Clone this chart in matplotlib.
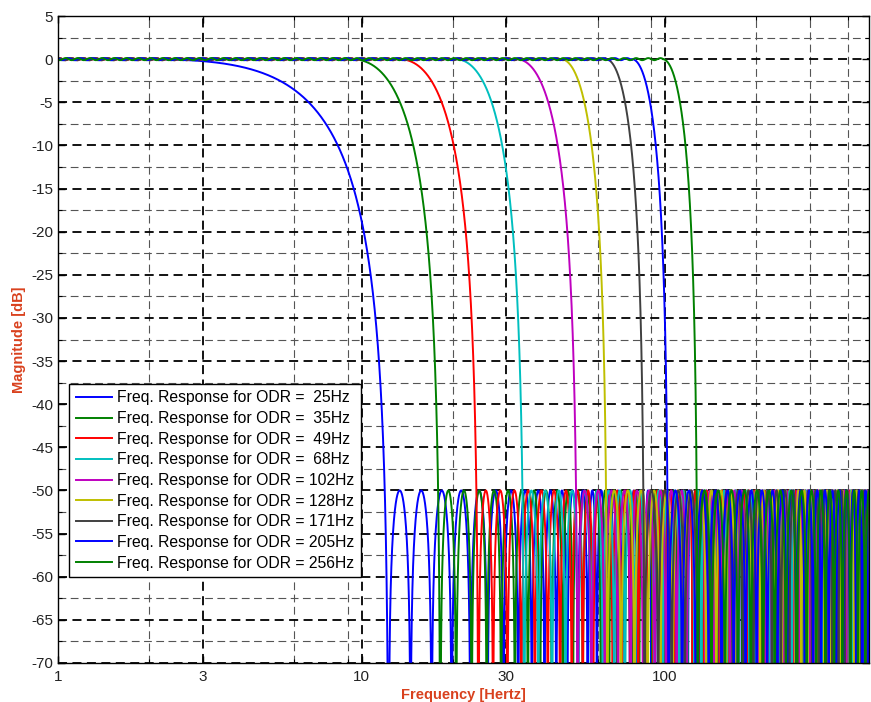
import numpy as np
import matplotlib
matplotlib.use("Agg")
import matplotlib.pyplot as plt
from matplotlib.ticker import FixedLocator, NullFormatter

plt.rcParams['font.family'] = ['Liberation Sans', 'DejaVu Sans']

# values
odr = [25, 35, 49, 68, 102, 128, 171, 205, 256]                      # Hz
pass_edge = [1.92, 9.28, 13.32, 20.39, 32.4, 45.4, 63.8, 77.8, 98.2]  # Hz, where roll-off starts
stop_edge = [12.3, 18.2, 24.3, 34.4, 51.6, 64.6, 85.6, 102.7, 128.2]  # Hz, first notch
lobe_step = [0.072, 0.052, 0.048, 0.046, 0.045, 0.045, 0.045, 0.045, 0.045]  # decades per lobe at the edge
colors = ['#0000ff', '#008000', '#ff0000', '#00bfbf', '#bf00bf',
          '#bfbf00', '#404040', '#0000ff', '#008000']
STOP_DB = -50.0
RIPPLE_DB = 0.12
LOBE_SHRINK = 3.0   # lobes get narrower away from the stop edge

x_major = [1, 3, 10, 30, 100]
x_minor = [2, 6, 9, 20, 60, 90, 200, 300, 400]
y_major = np.arange(-70, 6, 5)
y_minor = np.arange(-67.5, 5, 5)

LABEL_COLOR = '#d9411e'

###################################################

def response(f, fp, fs, step):
    # raised-cosine roll-off, then equiripple-looking stopband lobes
    x = np.clip((f - fp) / (fs - fp), 0, 1)
    h = 0.5 * (1 + np.cos(np.pi * x))
    u = np.log10(np.maximum(f, fs) / fs)
    phase = (u + LOBE_SHRINK * u ** 3 / 3) / step
    stop = 10 ** (STOP_DB / 20) * np.abs(np.sin(np.pi * phase))
    h = np.where(f < fs, h, stop)
    db = 20 * np.log10(np.maximum(h, 1e-9))
    db += np.where(f < fp, RIPPLE_DB * np.sin(2 * np.pi * np.log10(f) / 0.04 + fp), 0)
    return db

freq = np.logspace(0, np.log10(470), 60000)

###################################################

fig = plt.figure(figsize=(8.71, 7.02), dpi=100)
ax = fig.add_axes([58 / 871, 1 - 663 / 702, 811 / 871, 647 / 702])

for i in range(len(odr)):
    ax.plot(freq, response(freq, pass_edge[i], stop_edge[i], lobe_step[i]),
            color=colors[i], lw=1.4,
            label='Freq. Response for ODR = {:3d}Hz'.format(odr[i]))

ax.set_xscale('log')
ax.set_xlim(1, 470)
ax.set_ylim(-70, 5)

ax.xaxis.set_major_locator(FixedLocator(x_major))
ax.xaxis.set_minor_locator(FixedLocator(x_minor))
ax.xaxis.set_minor_formatter(NullFormatter())
ax.set_xticklabels([str(v) for v in x_major])
ax.yaxis.set_major_locator(FixedLocator(y_major))
ax.yaxis.set_minor_locator(FixedLocator(y_minor))
ax.set_yticklabels([str(v) for v in y_major])

ax.grid(True, which='major', color='black', linestyle=(0, (5, 3)), lw=1.3)
ax.grid(True, which='minor', color='#555555', linestyle=(0, (7, 4)), lw=0.8)
ax.set_axisbelow(True)

ax.tick_params(which='both', direction='in', top=True, right=True,
               labelsize=11, colors='black', labelcolor='#222222')
ax.tick_params(which='major', length=5, width=1)
ax.tick_params(which='minor', length=3, width=0.8)
ax.tick_params(axis='x', pad=5)
for s in ax.spines.values():
    s.set_linewidth(1.0)

ax.set_xlabel('Frequency [Hertz]', color=LABEL_COLOR, fontweight='bold',
              fontsize=10.5, labelpad=3)
ax.set_ylabel('Magnitude [dB]', color=LABEL_COLOR, fontweight='bold',
              fontsize=10.5, labelpad=4)

leg = ax.legend(loc='upper left', bbox_to_anchor=(0.014, 0.431), fontsize=11.3,
                handlelength=2.3, handletextpad=0.35, borderpad=0.4,
                labelspacing=0.36, borderaxespad=0, fancybox=False,
                framealpha=1, edgecolor='black')
leg.get_frame().set_linewidth(1.0)

fig.savefig('out.png', dpi=100)
